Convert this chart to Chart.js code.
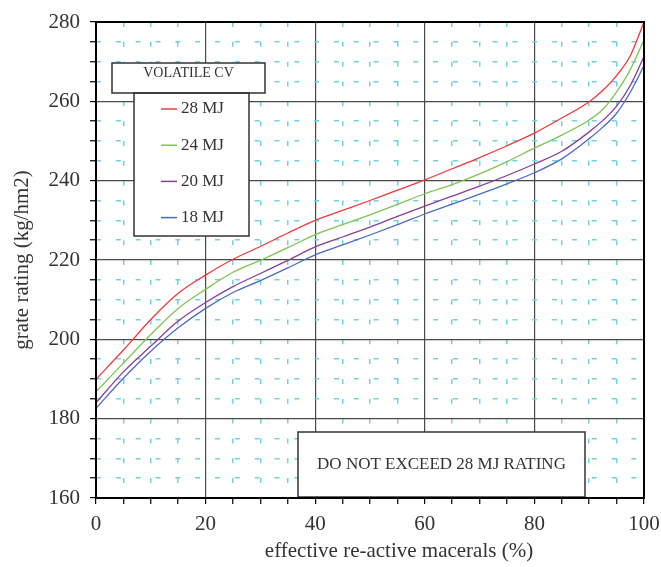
<!DOCTYPE html>
<html>
<head>
<meta charset="utf-8">
<script src="https://cdn.jsdelivr.net/npm/chart.js@4/dist/chart.umd.min.js"></script>
<style>html,body{margin:0;padding:0;background:#fff;}canvas{display:block;}</style>
</head>
<body>
<canvas id="c" width="661" height="567"></canvas>
<script>
// ---- data ----
const xValues = [0,5,10,15,20,25,30,35,40,45,50,55,60,65,70,75,80,85,90,92.5,95,97.5,100];
const mj28 = [189.9,197.3,205.0,211.6,216.2,220.2,223.4,226.8,230.0,232.5,235.0,237.6,240.2,243.0,245.8,248.8,252.0,255.8,259.9,262.8,266.5,271.5,280.0];
const mj24 = [186.8,194.0,201.2,207.8,212.6,216.9,219.9,223.1,226.4,228.9,231.4,234.0,236.7,239.0,241.7,244.8,248.2,251.5,255.3,258.0,262.4,268.0,275.5];
const mj20 = [184.0,191.8,198.3,204.6,209.3,213.3,216.6,219.9,223.3,225.8,228.3,231.0,233.6,236.1,238.6,241.3,244.2,247.4,252.3,255.2,258.8,264.0,271.3];
const mj18 = [182.6,190.2,197.0,202.9,207.8,211.8,214.8,218.0,221.3,223.8,226.3,228.9,231.6,234.1,236.6,239.2,242.0,245.5,250.6,253.5,257.0,262.3,269.0];
const seriesLabels = ['28 MJ','24 MJ','20 MJ','18 MJ'];
const xTickLabels = [0,20,40,60,80,100];
const yTickLabels = [160,180,200,220,240,260,280];
const legendTitle = 'VOLATILE CV';
const noteText = 'DO NOT EXCEED 28 MJ RATING';
const xTitle = 'effective re-active macerals (%)';
const yTitle = 'grate rating (kg/hm2)';

// ---- styles ----
const FONT = "'Liberation Serif', 'DejaVu Serif', serif";
const TEXT = '#333';
const seriesColors = ['#f03a3a','#7cc655','#8b3d98','#4a6cc0'];
const MINOR = '#6fd3e3';
const MAJOR = '#4a4a4a';

const seriesValues = [mj28, mj24, mj20, mj18];
const datasets = seriesValues.map((vals, i) => ({
  label: seriesLabels[i],
  data: vals.map((v, j) => ({x: xValues[j], y: v})),
  borderColor: seriesColors[i],
  backgroundColor: seriesColors[i],
  borderWidth: 1.3,
  pointRadius: 0,
  cubicInterpolationMode: 'monotone',
  fill: false
}));

function isMajor(v, list){ return list.includes(v); }
function gridOpts(list, lo, hi){
  return {
    color: ctx => { if(!ctx.tick) return MAJOR; const v = ctx.tick.value; if (v===lo||v===hi) return 'rgba(0,0,0,0)'; return isMajor(v,list) ? MAJOR : MINOR; },
    lineWidth: ctx => (ctx.tick && !isMajor(ctx.tick.value,list)) ? 1.5 : 1.2,
    drawTicks: true,
    tickLength: 6,
    tickColor: '#000',
    tickWidth: 1.2,
    tickBorderDash: []
  };
}
function borderOpts(list){
  return {
    display: false,
    dash: ctx => (ctx.tick && !isMajor(ctx.tick.value,list)) ? [5, 14.83] : [],
    dashOffset: 0
  };
}

const decor = {
  id: 'decor',
  afterDraw(chart){
    const {ctx, chartArea: a} = chart;
    ctx.save();
    // note box
    const nb = {x: a.left + 202, y: a.top + 410, w: 287, h: 65};
    ctx.fillStyle = '#fff';
    ctx.fillRect(nb.x, nb.y, nb.w, nb.h);
    ctx.strokeStyle = '#333'; ctx.lineWidth = 1.5;
    ctx.strokeRect(nb.x, nb.y, nb.w, nb.h);
    ctx.fillStyle = TEXT;
    ctx.font = "17px " + FONT;
    ctx.textAlign = 'center'; ctx.textBaseline = 'middle';
    ctx.fillText(noteText, nb.x + nb.w/2, nb.y + 33);

    // legend: title box + item box
    const tb = {x: a.left + 16, y: a.top + 41, w: 153, h: 30};
    const ib = {x: a.left + 38, y: a.top + 71, w: 115, h: 143};
    ctx.fillStyle = '#fff';
    ctx.fillRect(tb.x, tb.y, tb.w, tb.h);
    ctx.fillRect(ib.x, ib.y, ib.w, ib.h);
    ctx.strokeStyle = '#333'; ctx.lineWidth = 1.5;
    ctx.strokeRect(tb.x, tb.y, tb.w, tb.h);
    ctx.strokeRect(ib.x, ib.y, ib.w, ib.h);
    ctx.fillStyle = TEXT;
    ctx.font = "14px " + FONT;
    ctx.textAlign = 'center';
    ctx.fillText(legendTitle, tb.x + tb.w/2, tb.y + 10);
    ctx.font = "17px " + FONT;
    ctx.textAlign = 'left';
    chart.data.datasets.forEach((ds, i) => {
      const yy = ib.y + 16 + i * 36.2;
      ctx.strokeStyle = ds.borderColor; ctx.lineWidth = 1.5;
      ctx.beginPath(); ctx.moveTo(ib.x + 27, yy); ctx.lineTo(ib.x + 43, yy); ctx.stroke();
      ctx.fillStyle = TEXT;
      ctx.fillText(ds.label, ib.x + 47, yy);
    });

    // x axis title
    ctx.font = "21px " + FONT;
    ctx.textAlign = 'center'; ctx.textBaseline = 'middle';
    ctx.fillStyle = TEXT;
    ctx.fillText(xTitle, (a.left + a.right)/2 + 29, a.bottom + 53);

    // plot frame
    ctx.strokeStyle = '#000'; ctx.lineWidth = 2;
    ctx.strokeRect(a.left, a.top, a.right - a.left, a.bottom - a.top);
    ctx.restore();
  }
};

new Chart(document.getElementById('c'), {
  type: 'line',
  data: { datasets },
  plugins: [decor],
  options: {
    responsive: false,
    devicePixelRatio: 1,
    animation: false,
    layout: { padding: { left: 0, right: 17, top: 22, bottom: 0 } },
    plugins: { legend: { display: false }, tooltip: { enabled: false } },
    scales: {
      x: {
        type: 'linear',
        min: 0, max: 100,
        afterFit: s => { s.height = 69; s.paddingLeft = 0; s.paddingRight = 0; },
        ticks: {
          stepSize: 5, autoSkip: false, maxTicksLimit: 100, maxRotation: 0,
          padding: 8,
          color: TEXT,
          font: { family: FONT, size: 21 },
          callback: v => xTickLabels.includes(v) ? String(v) : ''
        },
        grid: gridOpts(xTickLabels, 0, 100),
        border: borderOpts(xTickLabels),
        title: { display: false, text: xTitle }
      },
      y: {
        type: 'linear',
        min: 160, max: 280,
        afterFit: s => { s.width = 96; s.paddingTop = 0; s.paddingBottom = 0; },
        ticks: {
          stepSize: 5, autoSkip: false, maxTicksLimit: 100,
          padding: 10,
          color: TEXT,
          font: { family: FONT, size: 21 },
          callback: v => yTickLabels.includes(v) ? String(v) : ''
        },
        grid: gridOpts(yTickLabels, 160, 280),
        border: borderOpts(yTickLabels),
        title: {
          display: true, text: yTitle, color: TEXT,
          font: { family: FONT, size: 21 },
          padding: { top: 10, bottom: 0 }
        }
      }
    }
  }
});
</script>
</body>
</html>
